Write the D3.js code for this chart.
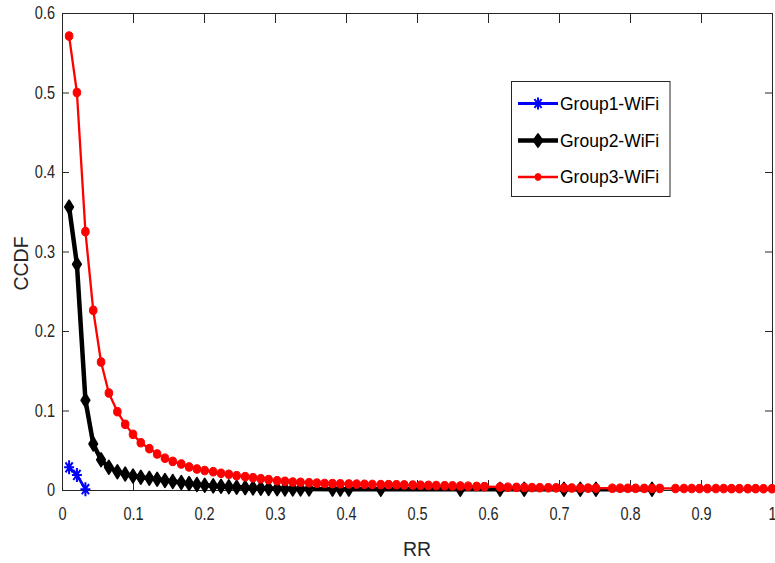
<!DOCTYPE html>
<html>
<head>
<meta charset="utf-8">
<script src="https://cdn.jsdelivr.net/npm/d3@7"></script>
<style>
  html, body { margin: 0; padding: 0; background: #fff; }
  svg { display: block; font-family: "Liberation Sans", Arial, Helvetica, sans-serif; }
</style>
</head>
<body>
<svg id="chart" width="775" height="563"></svg>
<script>
// ---- data -----------------------------------------------------------
const xTicks = [0, 0.1, 0.2, 0.3, 0.4, 0.5, 0.6, 0.7, 0.8, 0.9, 1];
const xTickLabels = ["0", "0.1", "0.2", "0.3", "0.4", "0.5", "0.6", "0.7", "0.8", "0.9", "1"];
const yTicks = [0, 0.1, 0.2, 0.3, 0.4, 0.5, 0.6];
const yTickLabels = ["0", "0.1", "0.2", "0.3", "0.4", "0.5", "0.6"];

const seriesNames = ["Group1-WiFi", "Group2-WiFi", "Group3-WiFi"];

const group1X = [0.010, 0.021, 0.033];
const group1Y = [0.0285, 0.0189, 0.0010];

const group2X = [0.010, 0.021, 0.033, 0.044, 0.055, 0.066, 0.078, 0.089, 0.100, 0.111,
                 0.123, 0.134, 0.145, 0.156, 0.168, 0.179, 0.190, 0.201, 0.213, 0.224,
                 0.235, 0.246, 0.258, 0.269, 0.280, 0.291, 0.303, 0.314, 0.325, 0.336,
                 0.348, 0.381, 0.392, 0.404, 0.449, 0.561, 0.617, 0.651, 0.707, 0.730,
                 0.752, 0.831];
const group2Y = [0.356, 0.284, 0.113, 0.058, 0.038, 0.0285, 0.023, 0.020, 0.0176, 0.016,
                 0.0147, 0.0135, 0.012, 0.0108, 0.0095, 0.0082, 0.0070, 0.0060, 0.0052, 0.0046,
                 0.0040, 0.0035, 0.0030, 0.0026, 0.0022, 0.0019, 0.0016, 0.0014, 0.0013, 0.0012,
                 0.0012, 0.0011, 0.0011, 0.0011, 0.0010, 0.0010, 0.0010, 0.0010, 0.0010, 0.0010,
                 0.0010, 0.0010];

const group3X = [0.010, 0.021, 0.033, 0.044, 0.055, 0.066, 0.078, 0.089, 0.100, 0.111,
                 0.123, 0.134, 0.145, 0.156, 0.168, 0.179, 0.190, 0.201, 0.213, 0.224,
                 0.235, 0.246, 0.258, 0.269, 0.280, 0.291, 0.303, 0.314, 0.325, 0.336,
                 0.348, 0.359, 0.370, 0.381, 0.392, 0.404, 0.415, 0.426, 0.437, 0.449,
                 0.460, 0.471, 0.482, 0.494, 0.505, 0.516, 0.527, 0.539, 0.550, 0.561,
                 0.572, 0.584, 0.595, 0.617, 0.628, 0.640, 0.651, 0.662, 0.673, 0.685,
                 0.696, 0.707, 0.718, 0.730, 0.741, 0.752, 0.775, 0.786, 0.797, 0.808,
                 0.820, 0.831, 0.842, 0.864, 0.876, 0.887, 0.898, 0.909, 0.921, 0.932,
                 0.943, 0.954, 0.966, 0.977, 0.988, 1.000];
const group3Y = [0.571, 0.500, 0.325, 0.226, 0.161, 0.122, 0.0985, 0.0826, 0.070, 0.0595,
                 0.052, 0.0453, 0.040, 0.036, 0.0327, 0.029, 0.0264, 0.0245, 0.023, 0.021,
                 0.0197, 0.018, 0.0168, 0.0155, 0.0142, 0.013, 0.0117, 0.0109, 0.0100, 0.0097,
                 0.0092, 0.0086, 0.0082, 0.0080, 0.0078, 0.0076, 0.0074, 0.0072, 0.0070, 0.0068,
                 0.0067, 0.0066, 0.0064, 0.0062, 0.0060, 0.0058, 0.0056, 0.0054, 0.0052, 0.0050,
                 0.0048, 0.0045, 0.0042, 0.0038, 0.0035, 0.0033, 0.0031, 0.0030, 0.0029, 0.0028,
                 0.0027, 0.0026, 0.0025, 0.0024, 0.0023, 0.0023, 0.0022, 0.0022, 0.0021, 0.0021,
                 0.0020, 0.0020, 0.0020, 0.0019, 0.0019, 0.0019, 0.0018, 0.0018, 0.0018, 0.0018,
                 0.0017, 0.0017, 0.0017, 0.0017, 0.0016, 0.0016];

// ---- layout ---------------------------------------------------------
const svg = d3.select("#chart");
const plot = { left: 62, right: 772, top: 13, bottom: 490 };
const axisColor = "#262626";

const x = d3.scaleLinear().domain([0, 1]).range([plot.left, plot.right]);
const y = d3.scaleLinear().domain([0, 0.6]).range([plot.bottom, plot.top]);

// ---- axes (boxed, ticks pointing inward) -----------------------------
const labelScale = 0.83;

const gx = svg.append("g")
  .attr("transform", `translate(0,${plot.bottom})`)
  .call(d3.axisBottom(x).tickValues(xTicks)
    .tickFormat((d, i) => xTickLabels[i])
    .tickSizeInner(-10).tickSizeOuter(0).tickPadding(18));

const gy = svg.append("g")
  .attr("transform", `translate(${plot.left},0)`)
  .call(d3.axisLeft(y).tickValues(yTicks)
    .tickFormat((d, i) => yTickLabels[i])
    .tickSizeInner(-7).tickSizeOuter(0).tickPadding(7));

const gxTop = svg.append("g")
  .attr("transform", `translate(0,${plot.top})`)
  .call(d3.axisTop(x).tickValues(xTicks).tickFormat("")
    .tickSizeInner(-10).tickSizeOuter(0));

const gyRight = svg.append("g")
  .attr("transform", `translate(${plot.right},0)`)
  .call(d3.axisRight(y).tickValues(yTicks).tickFormat("")
    .tickSizeInner(-7).tickSizeOuter(0));

[gx, gy, gxTop, gyRight].forEach(g => {
  g.select(".domain").attr("stroke", axisColor).attr("stroke-width", 1);
  g.selectAll(".tick line").attr("stroke", axisColor).attr("stroke-width", 1);
  g.selectAll("text").attr("fill", axisColor).attr("font-size", 17.5)
    .attr("font-family", "'Liberation Sans', Arial, sans-serif");
});
gx.selectAll(".tick text").attr("transform", `scale(${labelScale},1)`);
gy.selectAll(".tick text")
  .attr("x", -7 / labelScale)
  .attr("transform", `scale(${labelScale},1)`);

// axis titles
svg.append("text")
  .attr("x", (plot.left + plot.right) / 2)
  .attr("y", 556)
  .attr("text-anchor", "middle")
  .attr("font-size", 19.5)
  .attr("fill", axisColor)
  .text("RR");

svg.append("text")
  .attr("transform", `translate(28,${(plot.top + plot.bottom) / 2 + 12}) rotate(-90)`)
  .attr("text-anchor", "middle")
  .attr("font-size", 19.5)
  .attr("fill", axisColor)
  .text("CCDF");

// ---- marker shapes --------------------------------------------------
function asteriskPath(cx, cy, hw, hh) {
  const dx = hw * 0.72, dy = hh * 0.72;
  return `M${cx - hw},${cy}L${cx + hw},${cy}` +
         `M${cx},${cy - hh}L${cx},${cy + hh}` +
         `M${cx - dx},${cy - dy}L${cx + dx},${cy + dy}` +
         `M${cx - dx},${cy + dy}L${cx + dx},${cy - dy}`;
}
function diamondPath(cx, cy, hw, hh) {
  return `M${cx},${cy - hh}L${cx + hw},${cy}L${cx},${cy + hh}L${cx - hw},${cy}Z`;
}

const series = [
  { name: seriesNames[0], xs: group1X, ys: group1Y, color: "#0000ff", width: 2.8, marker: "asterisk" },
  { name: seriesNames[1], xs: group2X, ys: group2Y, color: "#000000", width: 4.5, marker: "diamond" },
  { name: seriesNames[2], xs: group3X, ys: group3Y, color: "#ff0000", width: 2.3, marker: "circle" }
];

function drawMarker(g, s, cx, cy, legend) {
  if (s.marker === "asterisk") {
    g.append("path").attr("d", asteriskPath(cx, cy, 5, legend ? 6 : 7))
      .attr("stroke", s.color).attr("stroke-width", 2).attr("fill", "none");
  } else if (s.marker === "diamond") {
    g.append("path").attr("d", diamondPath(cx, cy, legend ? 4.6 : 4.2, legend ? 6.5 : 6.8))
      .attr("fill", s.color).attr("stroke", s.color).attr("stroke-width", 1.8)
      .attr("stroke-linejoin", "round");
  } else {
    g.append("ellipse").attr("cx", cx).attr("cy", cy)
      .attr("rx", legend ? 3 : 3.8).attr("ry", legend ? 3.4 : 4.3)
      .attr("fill", s.color).attr("stroke", s.color).attr("stroke-width", 1);
  }
}

// ---- series ---------------------------------------------------------
const line = d3.line().x(d => x(d[0])).y(d => y(d[1]));

series.forEach(s => {
  const pts = s.xs.map((v, i) => [v, s.ys[i]]);
  const g = svg.append("g").attr("class", "series");
  g.append("path")
    .attr("d", line(pts))
    .attr("fill", "none")
    .attr("stroke", s.color)
    .attr("stroke-width", s.width)
    .attr("stroke-linejoin", "round");
  pts.forEach(p => drawMarker(g, s, x(p[0]), y(p[1]), false));
});

// ---- legend ---------------------------------------------------------
const legend = svg.append("g");
legend.append("rect")
  .attr("x", 511.5).attr("y", 81.5).attr("width", 158.5).attr("height", 115)
  .attr("fill", "#fff").attr("stroke", axisColor).attr("stroke-width", 1);

const rowY = [103.5, 140.5, 177];
series.forEach((s, i) => {
  const g = legend.append("g");
  g.append("line")
    .attr("x1", 518).attr("x2", 558).attr("y1", rowY[i]).attr("y2", rowY[i])
    .attr("stroke", s.color).attr("stroke-width", s.width);
  drawMarker(g, s, 538, rowY[i], true);
  g.append("text")
    .attr("x", 560).attr("y", rowY[i] + 6)
    .attr("font-size", 17.5)
    .attr("fill", "#000")
    .text(s.name);
});
</script>
</body>
</html>
